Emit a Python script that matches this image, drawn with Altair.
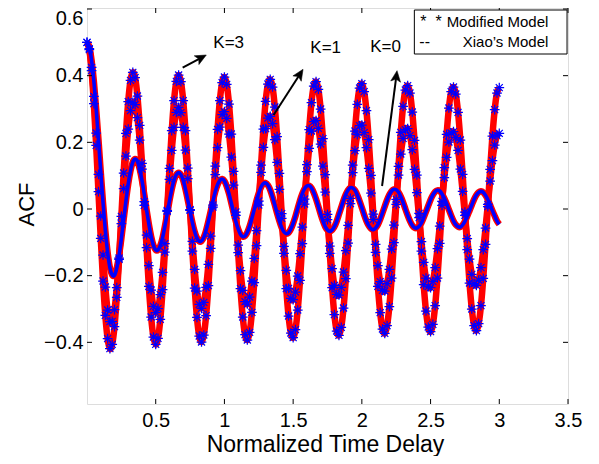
import math
import altair as alt
import pandas as pd

R_K0 = [0.5, .486, .446, .383, .301, .209, .112, .019, -.064, -.130,
        -.176, -.198, -.199, -.177, -.139, -.089, -.032, .024, .075, .115,
        .141, .150, .143, .120, .086, .044, -.002, -.045, -.082, -.109,
        -.123, -.123, -.110, -.086, -.052, -.015, .024, .059, .086, .103,
        .109, .103, .086, .059, .027, -.007, -.040, -.068, -.087, -.097,
        -.096, -.085, -.064, -.037, -.007, .024, .052, .073, .086, .090,
        .084, .068, .046, .018, -.011, -.038, -.060, -.076, -.083, -.081,
        -.070, -.052, -.028, -.002, .025, .048, .066, .076, .078, .071,
        .057, .036, .012, -.013, -.036, -.056, -.069, -.074, -.071, -.060,
        -.043, -.022, .002, .026, .046, .061, .069, .070, .063, .049,
        .030, .008, -.015, -.036, -.053, -.063, -.067, -.063, -.053, -.037,
        -.016, .005, .026, .044, .057, .064, .063, .056, .042, .024,
        .004, -.017, -.036, -.050, -.059, -.062, -.057, -.047, -.031, -.012,
        .008, .027, .043, .054, .059, .058, .050, .037, .020, .000,
        -.019, -.036, -.049, -.056, -.057, -.052, -.042, -.026, -.008, .010,
        .028, .042, .052, .056, .054, .045, .032, .016, -.002, -.020,
        -.036, -.047, -.053, -.054, -.048, -.037, -.022, -.005, .012, .029,
        .042, .050, .053, .050, .041, .028, .012, -.005, -.021, -.036,
        -.046]

R_K1 = [0.5, .481, .425, .338, .228, .104, -.021, -.138, -.234, -.303,
        -.338, -.337, -.302, -.236, -.147, -.044, .061, .159, .240, .295,
        .320, .313, .274, .207, .120, .022, -.078, -.170, -.243, -.292,
        -.311, -.299, -.257, -.190, -.104, -.007, .089, .176, .245, .290,
        .305, .289, .245, .177, .091, -.004, -.097, -.181, -.246, -.286,
        -.298, -.280, -.235, -.166, -.081, .012, .103, .184, .246, .283,
        .292, .272, .225, .156, .072, -.019, -.108, -.185, -.244, -.278,
        -.285, -.264, -.216, -.148, -.065, .024, .110, .185, .241, .273,
        .278, .256, .208, .140, .059, -.028, -.112, -.184, -.238, -.268,
        -.272, -.249, -.201, -.134, -.054, .030, .112, .182, .234, .262,
        .265, .242, .195, .129, .051, -.032, -.111, -.179, -.229, -.256,
        -.258, -.235, -.189, -.125, -.049, .032, .109, .175, .223, .250,
        .252, .229, .184, .122, .048, -.031, -.106, -.170, -.218, -.244,
        -.246, -.224, -.181, -.120, -.048, .029, .102, .165, .212, .238,
        .241, .220, .178, .119, .049, -.026, -.098, -.160, -.207, -.233,
        -.236, -.217, -.176, -.119, -.051, .023, .094, .155, .201, .228,
        .232, .214, .176, .120, .053, -.019, -.089, -.150, -.196, -.224,
        -.229, -.213, -.176, -.122, -.057, .014, .084, .145, .192, .220,
        .227]

R_K3 = [0.5, .478, .415, .316, .191, .052, -.088, -.216, -.319, -.389,
        -.419, -.406, -.353, -.265, -.151, -.022, .108, .227, .322, .386,
        .410, .394, .339, .251, .137, .011, -.116, -.232, -.324, -.384,
        -.406, -.388, -.331, -.242, -.129, -.004, .122, .235, .325, .383,
        .402, .382, .325, .235, .123, -.002, -.126, -.237, -.325, -.381,
        -.399, -.378, -.320, -.230, -.118, .006, .129, .239, .325, .379,
        .396, .374, .315, .225, .113, -.009, -.131, -.239, -.324, -.377,
        -.393, -.370, -.310, -.221, -.110, .012, .132, .240, .323, .375,
        .389, .366, .306, .217, .107, -.014, -.133, -.239, -.321, -.372,
        -.386, -.362, -.303, -.214, -.104, .015, .133, .238, .319, .369,
        .382, .359, .300, .211, .103, -.016, -.133, -.236, -.317, -.366,
        -.379, -.355, -.297, -.209, -.102, .016, .132, .234, .314, .363,
        .376, .352, .295, .208, .101, -.015, -.130, -.232, -.311, -.360,
        -.373, -.350, -.293, -.207, -.101, .014, .128, .230, .308, .357,
        .370, .348, .291, .206, .102, -.013, -.126, -.227, -.306, -.354,
        -.368, -.346, -.290, -.207, -.103, .011, .124, .224, .303, .352,
        .366, .345, .290, .207, .104, -.009, -.122, -.222, -.300, -.350,
        -.365, -.344, -.290, -.208, -.106, .007, .119, .219, .298, .348,
        .364]

TAU = [round(i / 60, 5) for i in range(len(R_K3))]   # sampling grid of the curves

X_TICKS = [0.5, 1, 1.5, 2, 2.5, 3, 3.5]
Y_TICKS = [-0.4, -0.2, 0, 0.2, 0.4, 0.6]

ANN_TEXT = ["K=3", "K=1", "K=0"]
ANN_X = [0.919, 1.625, 2.061]
ANN_Y = [0.498, 0.483, 0.487]

ARROW_X0 = [0.696, 1.358, 2.147]
ARROW_Y0 = [0.424, 0.282, 0.069]
ARROW_X1 = [0.868, 1.572, 2.256]
ARROW_Y1 = [0.462, 0.419, 0.415]

LEG_BOX = {"x0": 2.382, "x1": 3.493, "y0": 0.465, "y1": 0.597}
LEG_SYM = ["*\u00a0\u00a0*", "--"]
LEG_SYM_X = [2.425, 2.418]
LEG_LAB = ["Modified Model", "Xiao\u2019s Model"]
LEG_LAB_X = [3.357, 3.357]
LEG_Y = [0.561, 0.501]

# ---- layout ----
X_MIN, X_MAX = 0.0, 3.5
Y_MIN, Y_MAX = -0.585, 0.603
W, H = 481, 396
FONT = "Liberation Sans"
RED = "#ff0000"
BLUE = "#0000ff"

rows = []
for k, vals in (("K=0", R_K0), ("K=1", R_K1), ("K=3", R_K3)):
    for t, v in zip(TAU, vals):
        rows.append({"tau": t, "acf": v, "k": k})
df = pd.DataFrame(rows)

xs = alt.Scale(domain=[X_MIN, X_MAX], nice=False, zero=False)
ys = alt.Scale(domain=[Y_MIN, Y_MAX], nice=False, zero=False)

x_axis = alt.Axis(values=X_TICKS, format="~g", domain=False, ticks=False, tickSize=0,
                  grid=False, labelFlush=False, labelFont=FONT, labelFontSize=20,
                  labelColor="black", labelPadding=6,
                  title="Normalized Time Delay", titleFont=FONT, titleFontSize=23,
                  titleFontWeight="normal", titleColor="black",
                  titleX=238, titleY=47, titleAlign="center", titleBaseline="alphabetic")
y_axis = alt.Axis(values=Y_TICKS, format="~g", domain=False, ticks=False, tickSize=0,
                  grid=False, labelFont=FONT, labelFontSize=20, labelColor="black",
                  labelPadding=4,
                  labelOffset={"condition": {"test": "datum.value > 0.59", "value": 9},
                               "value": 0},
                  title="ACF", titleFont=FONT, titleFontSize=22, titleFontWeight="normal",
                  titleColor="black", titleAngle=270, titleX=-61, titleY=196,
                  titleAlign="center", titleBaseline="middle")

X = alt.X("tau:Q", scale=xs, axis=x_axis)
Y = alt.Y("acf:Q", scale=ys, axis=y_axis)

red_lines = alt.Chart(df).mark_line(color=RED, strokeWidth=6.5, interpolate="natural").encode(
    x=X, y=Y, detail="k:N")

blue_k0 = alt.Chart(df[df.k == "K=0"]).mark_line(
    color=BLUE, strokeWidth=3.6, interpolate="natural").encode(x=X, y=Y)

ASTERISK = "M-1,0L1,0M0,-1L0,1M-0.72,-0.72L0.72,0.72M-0.72,0.72L0.72,-0.72"
stars = alt.Chart(df[df.k != "K=0"]).mark_point(
    shape=ASTERISK, size=95, filled=False, color=BLUE, strokeWidth=1.25, opacity=1).encode(
    x=X, y=Y)

# inward ticks on all four sides (MATLAB box)
xt = pd.DataFrame({"tau": X_TICKS})
yt = pd.DataFrame({"acf": Y_TICKS})
tk = dict(color="black", strokeWidth=1)
ticks_b = alt.Chart(xt).mark_rule(**tk).encode(x=X, y=alt.value(H), y2=alt.value(H - 5))
ticks_t = alt.Chart(xt).mark_rule(**tk).encode(x=X, y=alt.value(0), y2=alt.value(5))
ticks_l = alt.Chart(yt).mark_rule(**tk).encode(y=Y, x=alt.value(0), x2=alt.value(5))
ticks_r = alt.Chart(yt).mark_rule(**tk).encode(y=Y, x=alt.value(W - 5), x2=alt.value(W))

# legend box
leg_box_df = pd.DataFrame([{"tau": LEG_BOX["x0"], "tau2": LEG_BOX["x1"],
                            "acf": LEG_BOX["y0"], "acf2": LEG_BOX["y1"]}])
leg_box = alt.Chart(leg_box_df).mark_rect(fill="white", stroke="black", strokeWidth=1).encode(
    x=X, x2="tau2:Q", y=Y, y2="acf2:Q")
leg_sym = alt.Chart(pd.DataFrame({"tau": LEG_SYM_X, "acf": LEG_Y, "t": LEG_SYM})).mark_text(
    align="left", baseline="middle", font=FONT, fontSize=16, color="black").encode(
    x=X, y=Y, text="t:N")
leg_lab = alt.Chart(pd.DataFrame({"tau": LEG_LAB_X, "acf": LEG_Y, "t": LEG_LAB})).mark_text(
    align="right", baseline="middle", font=FONT, fontSize=15, color="black").encode(
    x=X, y=Y, text="t:N")

# annotations
ann = alt.Chart(pd.DataFrame({"tau": ANN_X, "acf": ANN_Y, "t": ANN_TEXT})).mark_text(
    align="left", baseline="middle", font=FONT, fontSize=17, color="black").encode(
    x=X, y=Y, text="t:N")

pxx = W / (X_MAX - X_MIN)
pxy = H / (Y_MAX - Y_MIN)
arr_rows = []
for x0, y0, x1, y1 in zip(ARROW_X0, ARROW_Y0, ARROW_X1, ARROW_Y1):
    dx = (x1 - x0) * pxx
    dy = -(y1 - y0) * pxy          # screen coordinates (y down)
    L = math.hypot(dx, dy)
    ang = math.degrees(math.atan2(dx, -dy)) % 360
    back = 7.0                      # stop the shaft inside the arrow head
    ex = x1 - (dx / L) * back / pxx
    ey = y1 + (dy / L) * back / pxy
    arr_rows.append({"tau": x0, "acf": y0, "tau2": ex, "acf2": ey,
                     "hx": x1, "hy": y1, "ang": ang})
arr_df = pd.DataFrame(arr_rows)
shafts = alt.Chart(arr_df).mark_rule(color="black", strokeWidth=2).encode(
    x=X, y=Y, x2="tau2:Q", y2="acf2:Q")
HEAD = "M0,0L0.9,2L0,1.55L-0.9,2Z"
heads = alt.Chart(arr_df).mark_point(shape=HEAD, size=121, filled=True, fill="black",
                                     stroke="black", strokeWidth=0.5, opacity=1).encode(
    x=alt.X("hx:Q", scale=xs, axis=x_axis), y=alt.Y("hy:Q", scale=ys, axis=y_axis),
    angle=alt.Angle("ang:Q", scale=None))

chart = alt.layer(
    red_lines, blue_k0, stars,
    ticks_b, ticks_t, ticks_l, ticks_r,
    leg_box, leg_sym, leg_lab,
    shafts, heads, ann,
).properties(
    width=W, height=H,
    padding={"left": 79, "top": 0, "right": 20, "bottom": 52},
    autosize=alt.AutoSizeParams(type="none"),
    background="white",
).configure_view(stroke="black", strokeWidth=1).configure(font=FONT)

chart.save("out.html", embed_options={"renderer": "svg", "actions": False})
